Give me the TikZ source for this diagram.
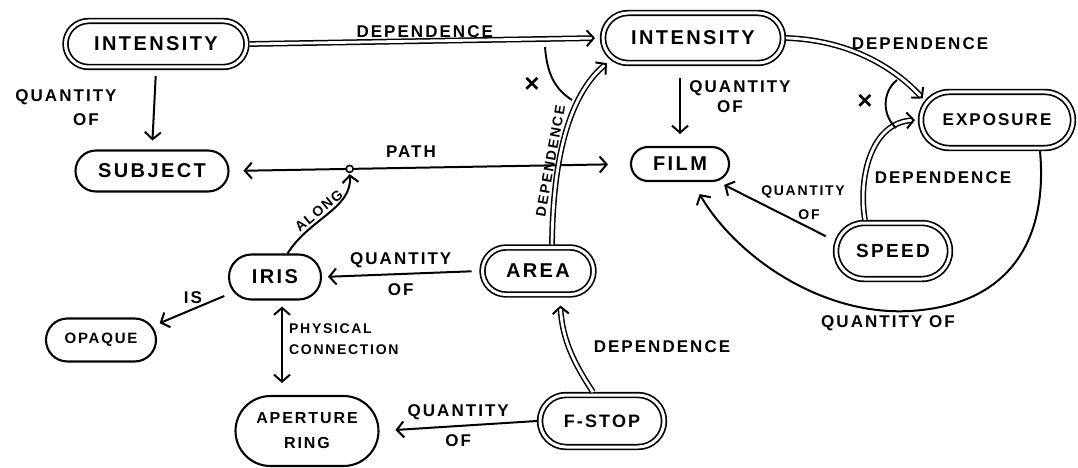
\documentclass[tikz,border=0pt]{standalone}
\usepackage{fontspec}
\newfontfamily\hand[LetterSpace=12]{Liberation Sans Bold}
\newfontfamily\handx{Liberation Sans Bold}
\usetikzlibrary{shapes.misc,arrows.meta}
\tikzset{
  nd/.style={draw, rounded rectangle, line width=2.1pt, inner sep=0pt, outer sep=1pt,
    font=\hand\fontsize{20}{22}\selectfont, align=center},
  nd2/.style={nd, double, line width=1.7pt, double distance=3pt, outer sep=3pt},
  arr/.style={line width=2pt, -{Straight Barb[length=7pt,width=16pt,line width=2pt]}},
  arrb/.style={line width=2pt, {Straight Barb[length=7pt,width=16pt,line width=2pt]}-{Straight Barb[length=7pt,width=16pt,line width=2pt]}},
  dbl/.style={double, line width=1.5pt, double distance=2.8pt, -{Straight Barb[length=7pt,width=16pt,line width=2pt]}},
  lab/.style={font=\hand\fontsize{17}{20}\selectfont, inner sep=1pt},
  slab/.style={font=\hand\fontsize{14}{16}\selectfont, inner sep=1pt},
  crs/.style={font=\handx\fontsize{26}{26}\selectfont, inner sep=0pt},
}
\begin{document}
\begin{tikzpicture}[x=1pt,y=-1pt]
\useasboundingbox (0,0) rectangle (1078,468);
% nodes
\node[nd2, minimum width=181, minimum height=46] (i1) at (156,44) {INTENSITY};
\node[nd, minimum width=153, minimum height=41] (subj) at (152,171) {SUBJECT};
\node[nd2, minimum width=180, minimum height=50] (i2) at (693,38) {INTENSITY};
\node[nd, minimum width=98, minimum height=34] (film) at (680,164) {FILM};
\node[nd2, minimum width=152, minimum height=56, font=\hand\fontsize{17}{19}\selectfont] (ex) at (997,120) {EXPOSURE};
\node[nd2, minimum width=114, minimum height=56, font=\hand\fontsize{19}{20}\selectfont] (speed) at (893,251) {SPEED};
\node[nd, minimum width=92, minimum height=45] (iris) at (275,277) {IRIS};
\node[nd2, minimum width=111, minimum height=47] (area) at (538,271) {AREA};
\node[nd, minimum width=110, minimum height=43, font=\hand\fontsize{15}{18}\selectfont] (opaque) at (101,340) {OPAQUE};
\node[nd, minimum width=143, minimum height=70, font=\hand\fontsize{16}{25}\selectfont] (ap) at (307,431) {APERTURE\\RING};
\node[nd2, minimum width=124, minimum height=52, font=\hand\fontsize{18}{21}\selectfont] (fstop) at (602,421) {F-STOP};

% connectors
\draw[dbl, shorten >=5pt] (i1.east) -- node[lab, above=2pt] (l1) {DEPENDENCE} (i2.west);
\draw[arr, shorten <=6pt, shorten >=9pt] (i1.south) -- (subj.north);
\node[lab] (l2a) at (66,97) {QUANTITY};
\node[lab] (l2b) at (86,120) {OF};

\draw[arrb, shorten <=14pt, shorten >=22pt] (subj.east) -- node[pos=0.3, circle, draw, line width=1.6pt, inner sep=0pt, minimum size=7pt, fill=white] (ring) {} (film.west);
\node[lab] (l3) at (411,152) {PATH};

\draw[arr, shorten >=1pt] (iris.62) .. controls +(22,-35) and +(3,35) .. node[slab, sloped, above=1pt, pos=0.45] (l4) {ALONG} (ring.south);

\draw[dbl, shorten >=5pt] ([xshift=14]area.north) .. controls (553,150) and (572,92) .. node[slab, sloped, above=2pt, pos=0.33, font=\hand\fontsize{14}{17}\selectfont] (l5) {DEPENDENCE} (i2.195);
\draw[line width=1.9pt] (545,47) .. controls (547,75) and (556,90) .. (572,100);
\node[crs] (x1) at (532,85) {×};

\draw[arr, shorten <=12pt, shorten >=12pt] (i2.south -| film.north) -- (film.north);
\node[lab] (l6a) at (740,88) {QUANTITY};
\node[lab] (l6b) at (730,107) {OF};

\draw[dbl, shorten >=3pt] (i2.east) .. controls (850,40) and (895,68) .. (ex.165);
\node[lab] (l7) at (920,44) {DEPENDENCE};
\draw[dbl, shorten >=3pt] ([xshift=-28]speed.north) .. controls (858,180) and (870,122) .. (ex.180);
\node[lab] (l8) at (943,178) {DEPENDENCE};
\draw[line width=1.9pt] (897,80) .. controls (882,92) and (882,115) .. (896,128);
\node[crs] (x2) at (865,102) {×};

\draw[arr, shorten <=10pt, shorten >=8pt] (speed.170) -- (film.335);
\node[slab] (l9a) at (803,192) {QUANTITY};
\node[slab] (l9b) at (809,215) {OF};

\coordinate (qbot) at (910,311);
\draw[arr, shorten >=14pt] ([xshift=43]ex.south) .. controls (1048,240) and (1010,305) .. (qbot) .. controls (820,316) and (735,255) .. (film.305);
\node[lab] (l10) at (888,323) {QUANTITY OF};

\draw[arr, shorten <=8pt, shorten >=6pt] (area.west) -- node[lab, above=4pt] (l11a) {QUANTITY} node[lab, below=8pt] (l11b) {OF} (iris.east);

\draw[arr, shorten <=10pt, shorten >=8pt] (iris.200) -- node[lab, above=4pt] (l12) {IS} (opaque.15);

\draw[arrb, shorten <=6pt, shorten >=12pt] ([xshift=7]iris.south) -- ([xshift=-25]ap.north);
\node[slab, anchor=west, font=\hand\fontsize{14}{17}\selectfont] (l13a) at (288,329) {PHYSICAL};
\node[slab, anchor=west, font=\hand\fontsize{14}{17}\selectfont] (l13b) at (288,350) {CONNECTION};

\draw[dbl, shorten >=8pt] ([xshift=-9]fstop.north) .. controls (575,365) and (562,340) .. ([xshift=22]area.south);
\node[lab] (l14) at (662,347) {DEPENDENCE};

\draw[arr, shorten >=16pt] (fstop.west) -- node[lab, above=4pt] (l15a) {QUANTITY} node[lab, below=7pt] (l15b) {OF} (ap.east);
\end{tikzpicture}
\end{document}
